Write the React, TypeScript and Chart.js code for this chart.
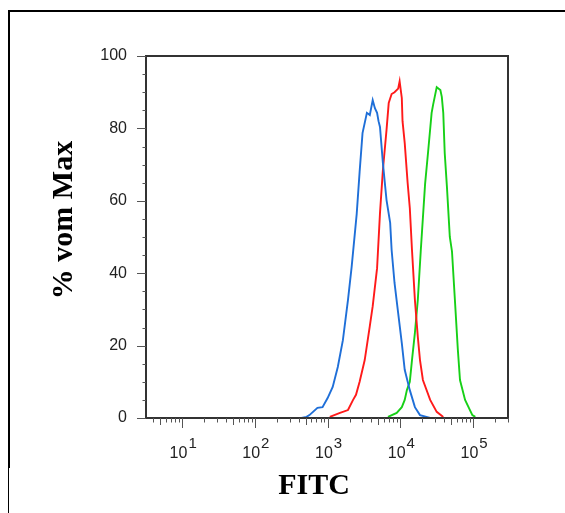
import React, { useEffect, useRef } from "react";
import { Chart, registerables } from "chart.js";

Chart.register(...registerables);

// log10(FITC intensity) and % of max
const blueLogFITC = [2.64, 2.71, 2.75, 2.86, 2.93, 3.0, 3.07, 3.14, 3.21, 3.28, 3.33, 3.4, 3.44, 3.48, 3.54, 3.58, 3.62, 3.65, 3.68, 3.7, 3.72, 3.76, 3.81, 3.86, 3.88, 3.92, 3.97, 4.02, 4.06, 4.13, 4.2, 4.27, 4.41];
const bluePct = [0, 0.3, 0.8, 2.8, 3.0, 5.5, 8.6, 14.1, 21.5, 32.6, 41.7, 56.4, 68, 78.7, 84.3, 83.7, 87.8, 85.6, 84.3, 82, 80.4, 70.4, 60.2, 53.9, 46.4, 37.3, 29, 20.7, 13.3, 7.7, 3, 0.8, 0];

const redLogFITC = [3.03, 3.17, 3.28, 3.35, 3.39, 3.44, 3.51, 3.58, 3.62, 3.68, 3.72, 3.76, 3.81, 3.84, 3.88, 3.92, 3.97, 3.99, 4.02, 4.03, 4.06, 4.1, 4.13, 4.16, 4.2, 4.24, 4.27, 4.31, 4.41, 4.5, 4.59];
const redPct = [0.3, 1.4, 2.2, 5, 6.4, 10, 16, 25.4, 30.9, 41.4, 56.6, 68.5, 79.6, 87, 89.5, 90, 91, 93, 88.4, 82, 76, 65, 58, 46.4, 32.6, 22.4, 16, 10.5, 5, 1.7, 0.3];

const greenLogFITC = [3.83, 3.95, 4.02, 4.06, 4.09, 4.13, 4.16, 4.2, 4.24, 4.28, 4.34, 4.38, 4.43, 4.45, 4.5, 4.55, 4.57, 4.59, 4.61, 4.64, 4.68, 4.71, 4.75, 4.79, 4.82, 4.89, 4.99, 5.03];
const greenPct = [0.3, 1.4, 3, 5, 7.7, 10, 16, 23.5, 32.6, 46, 64.6, 73.2, 84.3, 86.5, 91.4, 90.6, 88.7, 84.3, 73.2, 64, 50, 46, 32.6, 19, 10.5, 5, 0.8, 0.3];

const xDecades = [1, 2, 3, 4, 5];
const yTicks = [0, 20, 40, 60, 80, 100];

const xTitle = "FITC";
const yTitle = "% vom Max";

const X_MIN_LOG = 0.503;
const X_MAX_LOG = 5.48;

const toPoints = (logs: number[], pct: number[]) =>
  logs.map((l, i) => ({ x: Math.pow(10, l), y: pct[i] }));

const decorPlugin = {
  id: "decor",
  beforeDraw(chart: any) {
    const ctx = chart.ctx;
    ctx.save();
    ctx.fillStyle = "#ffffff";
    ctx.fillRect(0, 0, chart.width, chart.height);
    // outer frame
    ctx.fillStyle = "#000000";
    ctx.fillRect(8, 10, chart.width - 8, 2);
    ctx.fillRect(8, 10, 2, 458);
    ctx.fillRect(8, 468, 1, chart.height - 468);
    ctx.restore();
  },
  afterDraw(chart: any) {
    const ctx = chart.ctx;
    const { left, right, top, bottom } = chart.chartArea;
    const xs = chart.scales.x;
    const ys = chart.scales.y;
    ctx.save();
    // plot box
    ctx.strokeStyle = "#333333";
    ctx.lineWidth = 2;
    ctx.strokeRect(left, top, right - left, bottom - top);

    // y ticks
    ctx.strokeStyle = "#555555";
    ctx.lineWidth = 1;
    for (let v = 0; v <= 100; v += 5) {
      const py = Math.round(ys.getPixelForValue(v)) + 0.5;
      const len = v % 20 === 0 ? 9 : 3.5;
      ctx.beginPath();
      ctx.moveTo(left - len, py);
      ctx.lineTo(left, py);
      ctx.stroke();
    }
    // x ticks
    for (let d = 0; d <= 5; d++) {
      for (let k = 1; k <= 9; k++) {
        const v = k * Math.pow(10, d);
        const lv = Math.log10(v);
        if (lv < X_MIN_LOG || lv > X_MAX_LOG) continue;
        const px = Math.round(xs.getPixelForValue(v)) + 0.5;
        const len = k === 1 ? 10 : k === 5 ? 7 : 4.5;
        ctx.beginPath();
        ctx.moveTo(px, bottom);
        ctx.lineTo(px, bottom + len);
        ctx.stroke();
      }
    }
    // x tick labels with superscripts
    ctx.fillStyle = "#222222";
    ctx.textBaseline = "alphabetic";
    for (const d of xDecades) {
      const px = xs.getPixelForValue(Math.pow(10, d));
      ctx.font = "16px 'Liberation Sans', Arial, sans-serif";
      const wBase = ctx.measureText("10").width;
      ctx.font = "15px 'Liberation Sans', Arial, sans-serif";
      const wExp = ctx.measureText(String(d)).width;
      const total = wBase + 1 + wExp;
      const x0 = px - total / 2 + 1;
      ctx.font = "16px 'Liberation Sans', Arial, sans-serif";
      ctx.textAlign = "left";
      ctx.fillText("10", x0, bottom + 40);
      ctx.font = "15px 'Liberation Sans', Arial, sans-serif";
      ctx.fillText(String(d), x0 + wBase + 1, bottom + 30);
    }
    // axis titles
    ctx.fillStyle = "#000000";
    ctx.font = "bold 30px 'Liberation Serif', 'Times New Roman', serif";
    ctx.textAlign = "center";
    ctx.fillText(xTitle, (left + right) / 2 - 13, bottom + 76);
    ctx.translate(72, (top + bottom) / 2 - 17);
    ctx.rotate(-Math.PI / 2);
    ctx.fillText(yTitle, 0, 0);
    ctx.restore();
  },
};

export default function App() {
  const canvasRef = useRef<HTMLCanvasElement | null>(null);

  useEffect(() => {
    const canvas = canvasRef.current;
    if (!canvas) return;
    const chart = new Chart(canvas, {
      type: "line",
      data: {
        datasets: [
          {
            label: "blue",
            data: toPoints(blueLogFITC, bluePct),
            borderColor: "#1f6fd8",
            borderWidth: 1.9,
            pointRadius: 0,
            tension: 0,
            fill: false,
          },
          {
            label: "red",
            data: toPoints(redLogFITC, redPct),
            borderColor: "#ff1a1a",
            borderWidth: 1.9,
            pointRadius: 0,
            tension: 0,
            fill: false,
          },
          {
            label: "green",
            data: toPoints(greenLogFITC, greenPct),
            borderColor: "#17d017",
            borderWidth: 1.9,
            pointRadius: 0,
            tension: 0,
            fill: false,
          },
        ],
      },
      options: {
        responsive: false,
        animation: false,
        layout: { padding: { left: 0, top: 56, right: 57, bottom: 0 } },
        plugins: {
          legend: { display: false },
          tooltip: { enabled: false },
        },
        scales: {
          x: {
            type: "logarithmic",
            min: Math.pow(10, X_MIN_LOG),
            max: Math.pow(10, X_MAX_LOG),
            grid: { display: false, drawTicks: false },
            border: { display: false },
            ticks: { display: false },
            afterFit: (s: any) => {
              s.height = 95;
            },
          },
          y: {
            type: "linear",
            min: 0,
            max: 100,
            afterBuildTicks: (s: any) => {
              s.ticks = yTicks.map((v) => ({ value: v }));
            },
            grid: { display: false, drawTicks: false },
            border: { display: false },
            ticks: {
              padding: 19,
              color: "#222222",
              font: { family: "'Liberation Sans', Arial, sans-serif", size: 16 },
            },
            afterFit: (s: any) => {
              s.width = 146;
            },
          },
        },
      },
      plugins: [decorPlugin],
    } as any);
    return () => chart.destroy();
  }, []);

  return (
    <div style={{ position: "absolute", left: 0, top: 0, width: 565, height: 513 }}>
      <canvas ref={canvasRef} width={565} height={513} style={{ display: "block" }} />
    </div>
  );
}
